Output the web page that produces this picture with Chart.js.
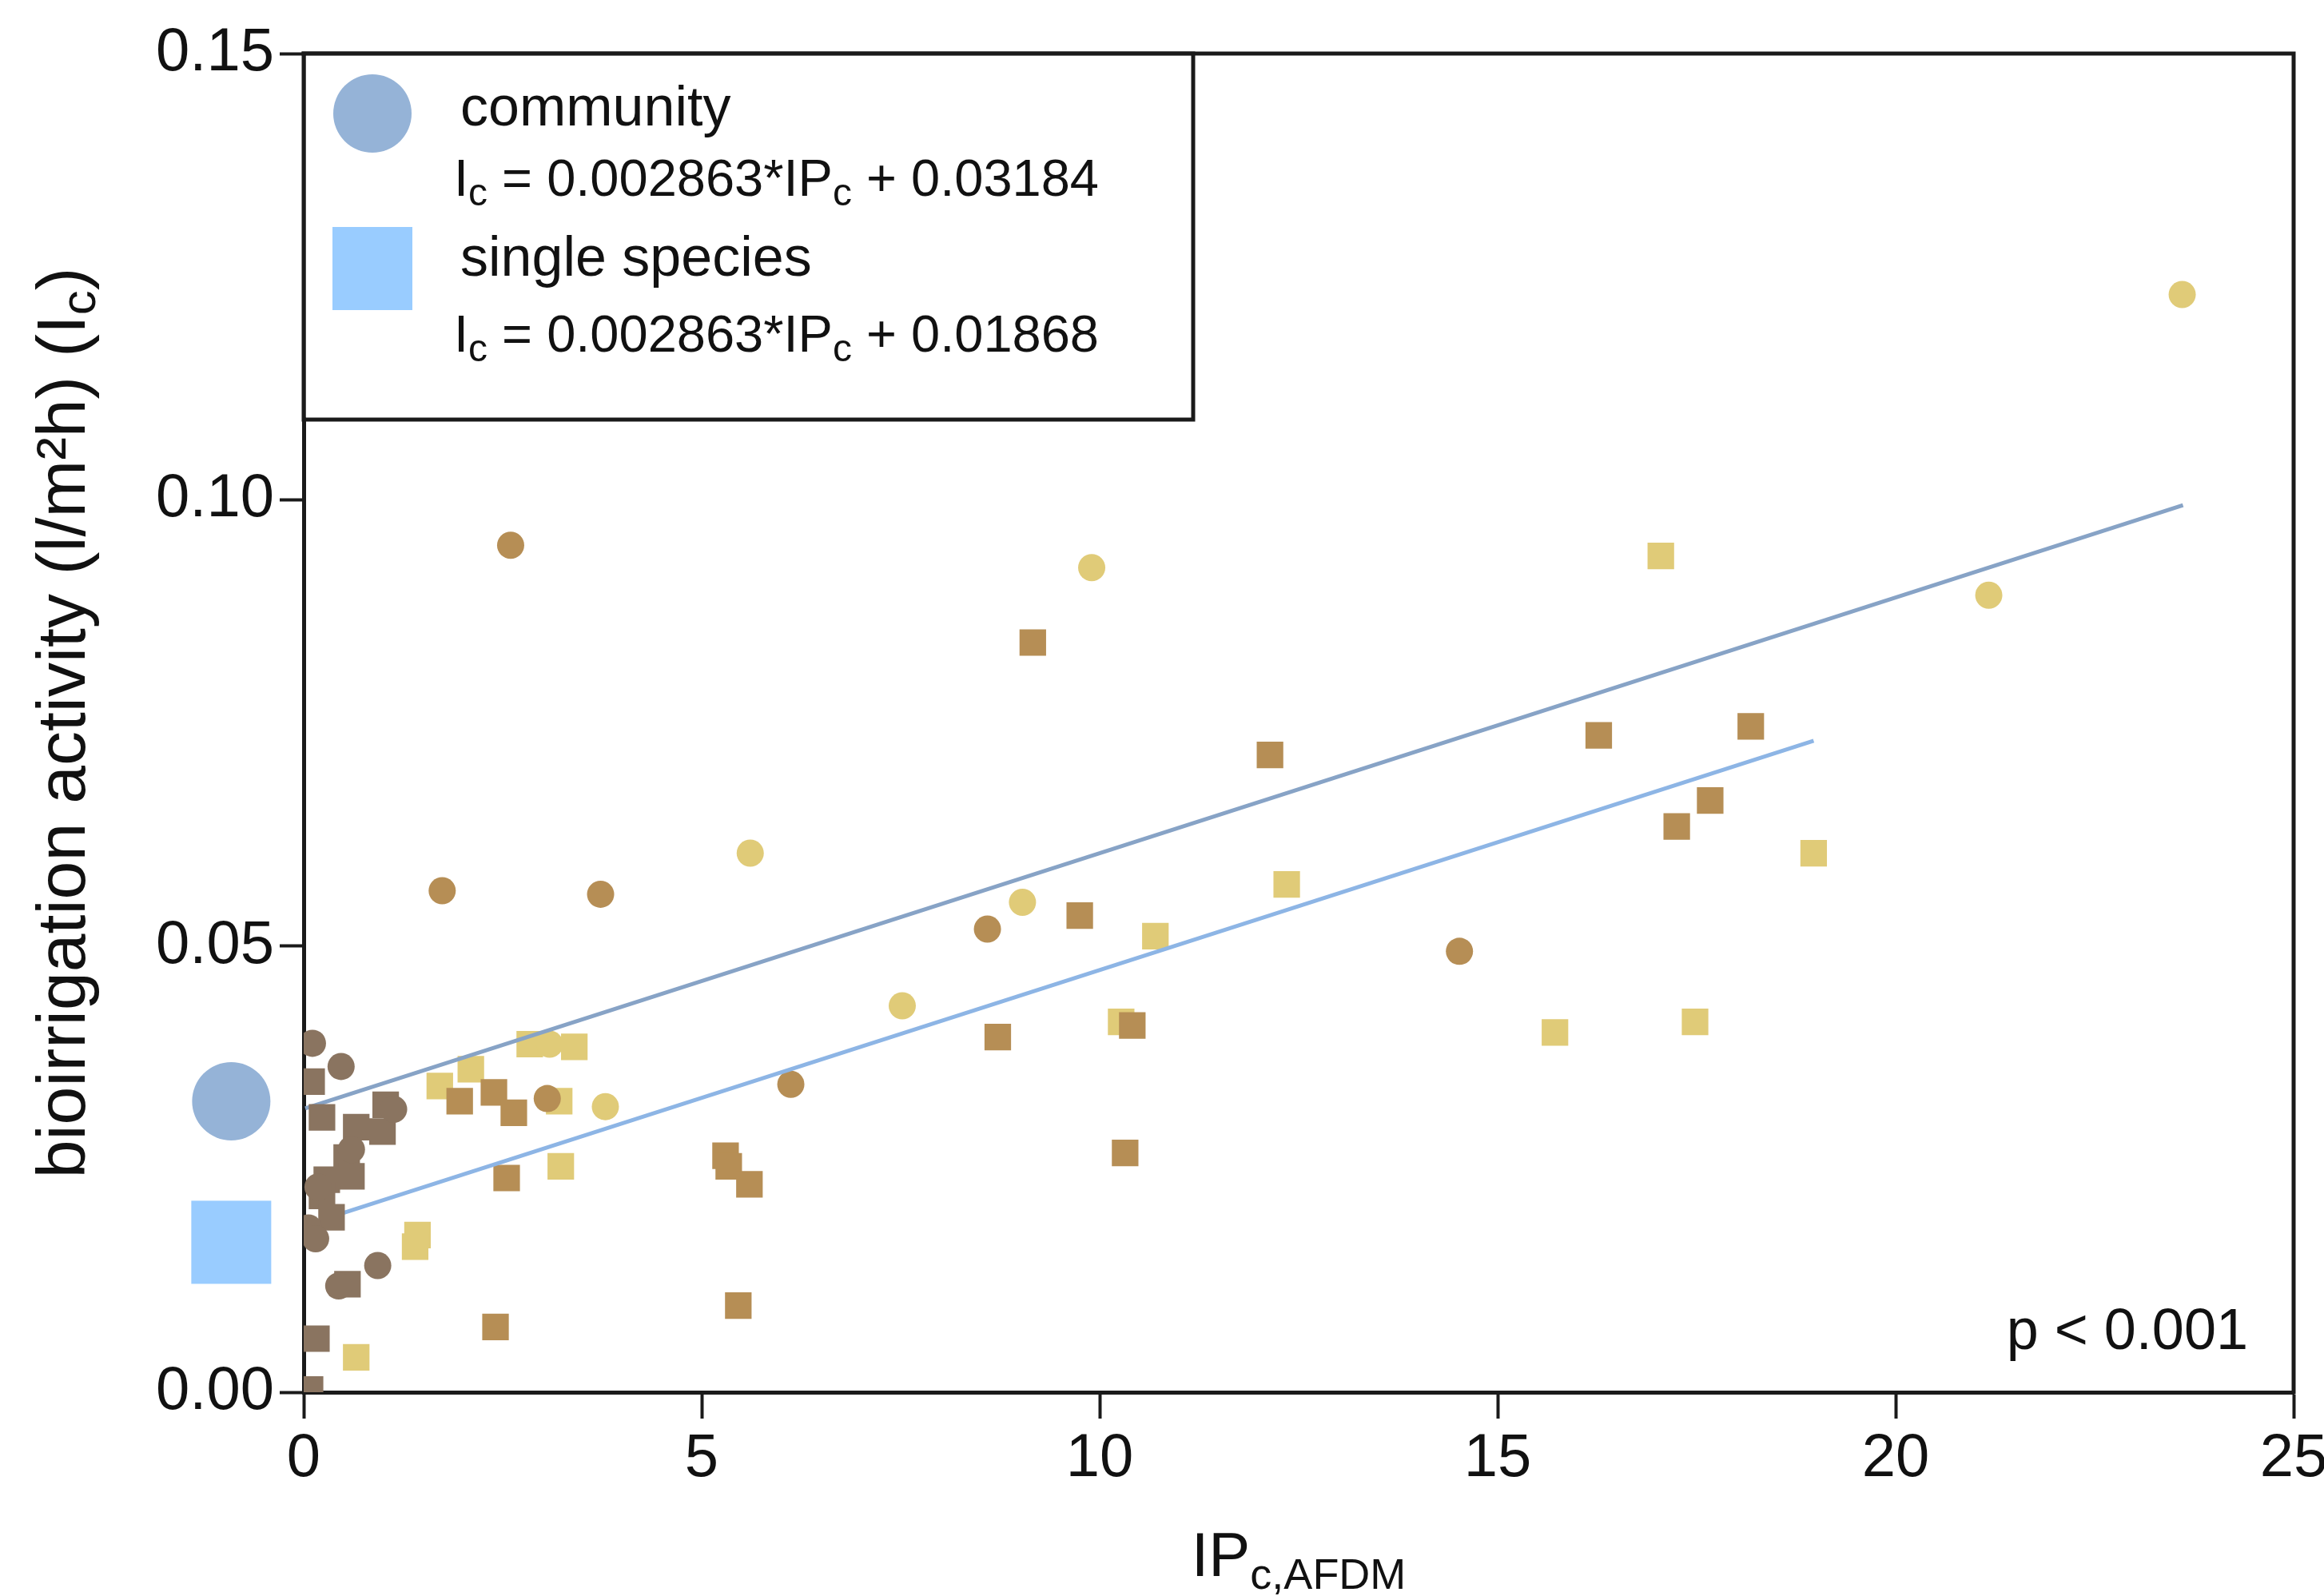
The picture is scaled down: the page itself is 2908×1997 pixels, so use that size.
<!DOCTYPE html>
<html>
<head>
<meta charset="utf-8">
<script src="https://cdn.jsdelivr.net/npm/chart.js@4.4.1/dist/chart.umd.min.js"></script>
<style>
  html, body { margin: 0; padding: 0; background: #fff; }
  canvas { display: block; }
</style>
</head>
<body>
<canvas id="myChart" width="2908" height="1997" style="width:2908px;height:1997px"></canvas>
<script>
var FONT = "'Liberation Sans', Arial, Helvetica, sans-serif";

// axis ticks
var xTicks = [0, 5, 10, 15, 20, 25];
var yTicks = [0, 0.05, 0.10, 0.15];

// points [IPc, Ic]
var darkCircles = [[0.11, 0.0391], [0.47, 0.0365], [1.13, 0.0317], [0.60, 0.0272], [0.18, 0.0230],
    [0.06, 0.0184], [0.15, 0.0172], [0.93, 0.0142], [0.44, 0.0119]];
var darkSquares = [[0.10, 0.0348], [0.23, 0.0308], [1.03, 0.0322], [0.99, 0.0292], [0.66, 0.0297],
    [0.54, 0.0263], [0.60, 0.0242], [0.29, 0.0238], [0.23, 0.0220], [0.35, 0.0196],
    [0.55, 0.0121], [0.16, 0.0060], [0.08, 0.0003]];
var brownCircles = [[2.60, 0.0949], [1.74, 0.0562], [3.73, 0.0558], [8.59, 0.0519], [14.52, 0.0494],
    [6.12, 0.0345], [3.06, 0.0329]];
var brownSquares = [[9.16, 0.0840], [12.14, 0.0714], [16.27, 0.0736], [18.18, 0.0746], [17.67, 0.0663],
    [17.25, 0.0634], [9.75, 0.0534], [8.72, 0.0398], [10.41, 0.0411], [10.32, 0.0268],
    [5.30, 0.0265], [5.34, 0.0253], [5.60, 0.0233], [5.46, 0.0097], [2.41, 0.0073],
    [1.96, 0.0326], [2.39, 0.0336], [2.64, 0.0313], [2.55, 0.0240]];
var yellowCircles = [[23.60, 0.1230], [21.17, 0.0893], [9.90, 0.0924], [5.61, 0.0604], [9.03, 0.0549],
    [7.52, 0.0433], [3.79, 0.0320], [3.09, 0.0390]];
var yellowSquares = [[17.05, 0.0937], [12.35, 0.0569], [18.97, 0.0604], [10.70, 0.0511], [10.27, 0.0415],
    [15.72, 0.0403], [17.48, 0.0415], [1.71, 0.0343], [2.10, 0.0362], [2.84, 0.0390],
    [3.40, 0.0387], [3.21, 0.0326], [3.23, 0.0253], [1.43, 0.0176], [1.40, 0.0163], [0.66, 0.0039]];

// regression lines (end points) and intercept markers left of the axis
var communityLine = [[0.02, 0.0318], [23.61, 0.0994]];
var singleLine = [[0.50, 0.0201], [18.97, 0.0730]];
var interceptX = -0.91;
var communityIntercept = 0.0326;
var singleIntercept = 0.0168;

var DARK = '#8a7460', BROWN = '#b68e55', YELLOW = '#e0cb78';
var COMM = '#95b3d7', SINGLE = '#99ccff';

function pts(list) {
    return list.map(function (p) { return {x: p[0], y: p[1]}; });
}

function markers(list, style, color, order) {
    return {
        data: pts(list),
        pointStyle: style,
        pointRadius: style === 'rect' ? 23.5 : 17,
        backgroundColor: color,
        borderWidth: 0,
        order: order
    };
}

// text with sub/superscript pieces: [text, size, dy]
function richText(ctx, parts, x, y, align) {
    var w = 0;
    parts.forEach(function (p) {
        ctx.font = p[1] + 'px ' + FONT;
        w += ctx.measureText(p[0]).width;
    });
    var cx = align === 'center' ? x - w / 2 : (align === 'right' ? x - w : x);
    ctx.textAlign = 'left';
    ctx.textBaseline = 'alphabetic';
    parts.forEach(function (p) {
        ctx.font = p[1] + 'px ' + FONT;
        ctx.fillText(p[0], cx, y + (p[2] || 0));
        cx += ctx.measureText(p[0]).width;
    });
}

var framePlugin = {
    id: 'frame',
    beforeDatasetsDraw: function (chart) {
        var ctx = chart.ctx, a = chart.chartArea;
        ctx.save();
        ctx.strokeStyle = '#1a1a1a';
        ctx.lineWidth = 5;
        ctx.beginPath();
        ctx.moveTo(a.left - 2.5, a.top);
        ctx.lineTo(a.right, a.top);
        ctx.lineTo(a.right, a.bottom + 2.5);
        ctx.stroke();
        ctx.restore();
    }
};

// intercept markers sit outside the chart area, so they are drawn here via the scales
var interceptPlugin = {
    id: 'intercepts',
    afterDatasetsDraw: function (chart) {
        var ctx = chart.ctx, xs = chart.scales.x, ys = chart.scales.y;
        var px = xs.getPixelForValue(interceptX);
        ctx.save();
        ctx.fillStyle = COMM;
        ctx.beginPath();
        ctx.arc(px, ys.getPixelForValue(communityIntercept), 49, 0, Math.PI * 2);
        ctx.fill();
        ctx.fillStyle = SINGLE;
        var sy = ys.getPixelForValue(singleIntercept);
        ctx.fillRect(px - 50, sy - 52, 100, 104);
        ctx.restore();
    }
};

var textPlugin = {
    id: 'texts',
    afterDraw: function (chart) {
        var ctx = chart.ctx, a = chart.chartArea;
        ctx.save();
        ctx.fillStyle = '#111';

        // y axis title
        ctx.save();
        ctx.translate(106, (a.top + a.bottom) / 2);
        ctx.rotate(-Math.PI / 2);
        richText(ctx, [['bioirrigation activity (l/m\u00b2h) (I', 86, 0], ['c', 62, 13], [')', 86, 0]], 0, 0, 'center');
        ctx.restore();

        // x axis title
        richText(ctx, [['IP', 78, 0], ['c,AFDM', 54, 16]], (a.left + a.right) / 2, 1972, 'center');

        // legend box
        ctx.fillStyle = '#fff';
        ctx.fillRect(a.left + 2.5, a.top + 2.5, 1493 - a.left - 5, 525 - a.top - 5);
        ctx.strokeStyle = '#1a1a1a';
        ctx.lineWidth = 5;
        ctx.strokeRect(a.left, a.top, 1493 - a.left, 525 - a.top);

        ctx.fillStyle = COMM;
        ctx.beginPath();
        ctx.arc(466, 142, 49, 0, Math.PI * 2);
        ctx.fill();
        ctx.fillStyle = SINGLE;
        ctx.fillRect(416, 284, 100, 104);

        ctx.fillStyle = '#111';
        richText(ctx, [['community', 70, 0]], 576, 157, 'left');
        richText(ctx, [['I', 65, 0], ['c', 48, 12], [' = 0.002863*IP', 65, 0], ['c', 48, 12], [' + 0.03184', 65, 0]], 568, 245, 'left');
        richText(ctx, [['single species', 70, 0]], 576, 345, 'left');
        richText(ctx, [['I', 65, 0], ['c', 48, 12], [' = 0.002863*IP', 65, 0], ['c', 48, 12], [' + 0.01868', 65, 0]], 568, 440, 'left');

        // p value
        richText(ctx, [['p < 0.001', 72, 0]], 2813, 1688, 'right');
        ctx.restore();
    }
};

var area = document.getElementById('myChart');

new Chart(area, {
    type: 'scatter',
    data: {
        datasets: [
            markers(darkCircles, 'circle', DARK, 0),
            markers(darkSquares, 'rect', DARK, 0),
            {
                type: 'line',
                data: pts(communityLine),
                borderColor: '#87a3c6',
                borderWidth: 5,
                pointRadius: 0,
                showLine: true,
                fill: false,
                order: 1
            },
            {
                type: 'line',
                data: pts(singleLine),
                borderColor: '#8db5e5',
                borderWidth: 5,
                pointRadius: 0,
                showLine: true,
                fill: false,
                order: 1
            },
            markers(brownCircles, 'circle', BROWN, 2),
            markers(brownSquares, 'rect', BROWN, 2),
            markers(yellowCircles, 'circle', YELLOW, 3),
            markers(yellowSquares, 'rect', YELLOW, 3)
        ]
    },
    options: {
        responsive: false,
        animation: false,
        events: [],
        layout: {autoPadding: false, padding: {top: 67, right: 38, left: 0, bottom: 0}},
        plugins: {
            legend: {display: false},
            tooltip: {enabled: false}
        },
        scales: {
            x: {
                type: 'linear',
                min: 0,
                max: 25,
                afterBuildTicks: function (s) { s.ticks = xTicks.map(function (v) { return {value: v}; }); },
                afterFit: function (s) { s.height = 255; s.paddingLeft = 0; s.paddingRight = 0; },
                grid: {drawOnChartArea: false, drawTicks: true, tickLength: 33, tickWidth: 4, tickColor: '#1a1a1a'},
                border: {display: true, width: 5, color: '#1a1a1a'},
                ticks: {font: {family: FONT, size: 76, lineHeight: 1}, color: '#111', padding: 13, maxRotation: 0}
            },
            y: {
                type: 'linear',
                min: 0,
                max: 0.15,
                afterBuildTicks: function (s) { s.ticks = yTicks.map(function (v) { return {value: v}; }); },
                afterFit: function (s) { s.width = 380; s.paddingTop = 0; s.paddingBottom = 0; },
                grid: {drawOnChartArea: false, drawTicks: true, tickLength: 30, tickWidth: 4, tickColor: '#1a1a1a'},
                border: {display: true, width: 5, color: '#1a1a1a'},
                ticks: {
                    font: {family: FONT, size: 76, lineHeight: 1},
                    color: '#111',
                    padding: 7,
                    callback: function (v) { return Number(v).toFixed(2); }
                }
            }
        }
    },
    plugins: [framePlugin, interceptPlugin, textPlugin]
});
</script>
</body>
</html>
